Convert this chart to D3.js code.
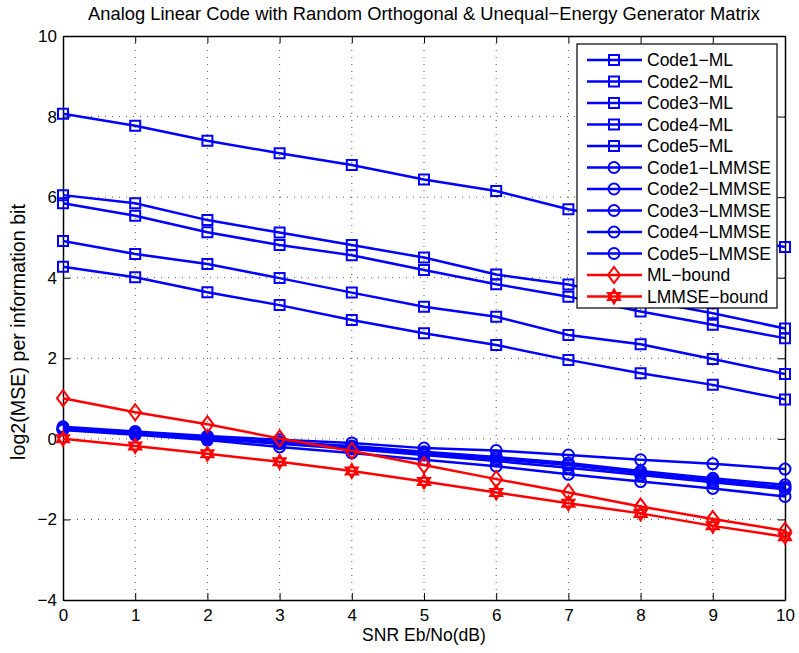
<!DOCTYPE html>
<html><head><meta charset="utf-8">
<script src="https://cdn.jsdelivr.net/npm/d3@7"></script>
<style>body{margin:0;background:#fff;} text{font-family:"Liberation Sans",Arial,sans-serif;}</style>
</head><body><svg id="c" width="799" height="653"></svg>
<script>
const snr = [0,1,2,3,4,5,6,7,8,9,10];
const xTicks = [0,1,2,3,4,5,6,7,8,9,10];
const yTicks = [-4,-2,0,2,4,6,8,10];
const code1ML = [8.07,7.77,7.40,7.09,6.80,6.44,6.15,5.70,5.38,5.08,4.76];
const code2ML = [6.05,5.85,5.43,5.12,4.81,4.50,4.08,3.83,3.45,3.12,2.74];
const code3ML = [5.85,5.54,5.13,4.81,4.56,4.19,3.84,3.53,3.16,2.83,2.50];
const code4ML = [4.91,4.59,4.34,3.99,3.63,3.28,3.03,2.58,2.35,1.98,1.61];
const code5ML = [4.27,4.01,3.64,3.32,2.95,2.62,2.33,1.96,1.63,1.34,0.98];
const code1LMMSE = [0.30,0.18,0.07,-0.02,-0.10,-0.23,-0.29,-0.40,-0.52,-0.62,-0.75];
const code2LMMSE = [0.27,0.15,0.03,-0.08,-0.18,-0.32,-0.45,-0.60,-0.80,-0.98,-1.14];
const code3LMMSE = [0.25,0.14,0.02,-0.10,-0.21,-0.36,-0.50,-0.65,-0.85,-1.03,-1.20];
const code4LMMSE = [0.23,0.12,0.00,-0.12,-0.25,-0.40,-0.55,-0.72,-0.90,-1.08,-1.25];
const code5LMMSE = [0.22,0.10,-0.03,-0.20,-0.35,-0.52,-0.68,-0.88,-1.06,-1.23,-1.43];
const mlBound = [1.01,0.66,0.36,0.01,-0.30,-0.65,-1.00,-1.33,-1.68,-1.99,-2.28];
const lmmseBound = [0.00,-0.18,-0.37,-0.57,-0.80,-1.06,-1.33,-1.60,-1.85,-2.16,-2.43];
const seriesNames = ["Code1−ML","Code2−ML","Code3−ML","Code4−ML","Code5−ML","Code1−LMMSE","Code2−LMMSE","Code3−LMMSE","Code4−LMMSE","Code5−LMMSE","ML−bound","LMMSE−bound"];
const seriesValues = [code1ML,code2ML,code3ML,code4ML,code5ML,code1LMMSE,code2LMMSE,code3LMMSE,code4LMMSE,code5LMMSE,mlBound,lmmseBound];
const seriesColors = ["#0000ff","#0000ff","#0000ff","#0000ff","#0000ff","#0000ff","#0000ff","#0000ff","#0000ff","#0000ff","#ff0000","#ff0000"];
const seriesMarkers = ["square","square","square","square","square","circle","circle","circle","circle","circle","diamond","hexagram"];

const svg = d3.select("#c");
const L=63, R=785, T=36, B=600;
const x = d3.scaleLinear().domain([0,10]).range([L,R]);
const y = d3.scaleLinear().domain([-4,10]).range([B,T]);

// grid
const g = svg.append("g");
g.selectAll(".vg").data(xTicks.slice(1,-1)).join("line")
  .attr("x1",d=>x(d)).attr("x2",d=>x(d)).attr("y1",T).attr("y2",B)
  .attr("stroke","#555").attr("stroke-width",1).attr("stroke-dasharray","1,6");
g.selectAll(".hg").data(yTicks.slice(1,-1)).join("line")
  .attr("y1",d=>y(d)).attr("y2",d=>y(d)).attr("x1",L).attr("x2",R)
  .attr("stroke","#555").attr("stroke-width",1).attr("stroke-dasharray","1,6");

// axes
const fmt = d=> d<0 ? "−"+Math.abs(d) : String(d);
const ax = svg.append("g").attr("transform",`translate(0,${B})`)
  .call(d3.axisBottom(x).tickValues(xTicks).tickSizeInner(-7).tickSizeOuter(0).tickFormat(fmt));
const axT = svg.append("g").attr("transform",`translate(0,${T})`)
  .call(d3.axisTop(x).tickValues(xTicks).tickSizeInner(-7).tickSizeOuter(0).tickFormat(""));
const ay = svg.append("g").attr("transform",`translate(${L},0)`)
  .call(d3.axisLeft(y).tickValues(yTicks).tickSizeInner(-7).tickSizeOuter(0).tickPadding(6).tickFormat(fmt));
const ayR = svg.append("g").attr("transform",`translate(${R},0)`)
  .call(d3.axisRight(y).tickValues(yTicks).tickSizeInner(-7).tickSizeOuter(0).tickFormat(""));
[ax,axT,ay,ayR].forEach(a=>{
  a.selectAll(".domain").attr("stroke","#000").attr("stroke-width",1.5);
  a.selectAll(".tick line").attr("stroke","#000");
  a.selectAll("text").attr("font-size",17).attr("fill","#000").attr("font-family","Liberation Sans, Arial, sans-serif");
});
ax.selectAll("text").attr("y",9).attr("dy","0.71em");

function markerPath(type){
  if(type==="square") return "M-5,-5H5V5H-5Z";
  if(type==="circle") return "M-5.5,0A5.5,5.5 0 1,0 5.5,0A5.5,5.5 0 1,0 -5.5,0Z";
  if(type==="diamond") return "M0,-8L6,0L0,8L-6,0Z";
  const r=7, pts1=[], pts2=[];
  for(let i=0;i<3;i++){const a=-Math.PI/2+i*2*Math.PI/3; pts1.push([r*Math.cos(a),r*Math.sin(a)]);}
  for(let i=0;i<3;i++){const a=Math.PI/2+i*2*Math.PI/3; pts2.push([r*Math.cos(a),r*Math.sin(a)]);}
  return "M"+pts1.map(p=>p.join(",")).join("L")+"Z"+"M"+pts2.map(p=>p.join(",")).join("L")+"Z";
}

const line = d3.line().x((d,i)=>x(snr[i])).y(d=>y(d));
const plot = svg.append("g");
seriesValues.forEach((vals,k)=>{
  plot.append("path").datum(vals).attr("d",line).attr("fill","none")
    .attr("stroke",seriesColors[k]).attr("stroke-width",2.5);
  plot.selectAll(null).data(vals).join("path")
    .attr("transform",(d,i)=>`translate(${x(snr[i])},${y(d)})`)
    .attr("d",markerPath(seriesMarkers[k])).attr("fill","none")
    .attr("stroke",seriesColors[k]).attr("stroke-width",2);
});

// legend
const lg = svg.append("g");
const lx0=577, ly0=44, lw=200, lh=264;
lg.append("rect").attr("x",lx0).attr("y",ly0).attr("width",lw).attr("height",lh)
  .attr("fill","#fff").attr("stroke","#000").attr("stroke-width",1.2);
const rowY = d3.scaleLinear().domain([0,11]).range([60,296.5]);
seriesNames.forEach((name,k)=>{
  const yy=rowY(k);
  lg.append("line").attr("x1",587).attr("x2",642).attr("y1",yy).attr("y2",yy)
    .attr("stroke",seriesColors[k]).attr("stroke-width",2.5);
  lg.append("path").attr("transform",`translate(614,${yy})`).attr("d",markerPath(seriesMarkers[k]))
    .attr("fill","none").attr("stroke",seriesColors[k]).attr("stroke-width",2);
  lg.append("text").attr("x",647).attr("y",yy).attr("dy","0.35em").attr("font-size",17.5).text(name);
});

// labels fitted to the widths seen in the reference
function fit(sel, target){
  const w = sel.node().getComputedTextLength();
  const fs = parseFloat(sel.attr("font-size"));
  sel.attr("font-size", fs*target/w);
}
const title = svg.append("text").attr("x",(L+R)/2).attr("y",20).attr("text-anchor","middle").attr("font-size",14)
  .text("Analog Linear Code with Random Orthogonal & Unequal−Energy Generator Matrix");
fit(title, 672);
const xl = svg.append("text").attr("x",(L+R)/2).attr("y",641).attr("text-anchor","middle").attr("font-size",15)
  .text("SNR Eb/No(dB)");
fit(xl, 124);
const yl = svg.append("text").attr("transform",`translate(25,332) rotate(-90)`).attr("text-anchor","middle").attr("font-size",15)
  .text("log2(MSE) per information bit");
fit(yl, 256);
</script></body></html>
